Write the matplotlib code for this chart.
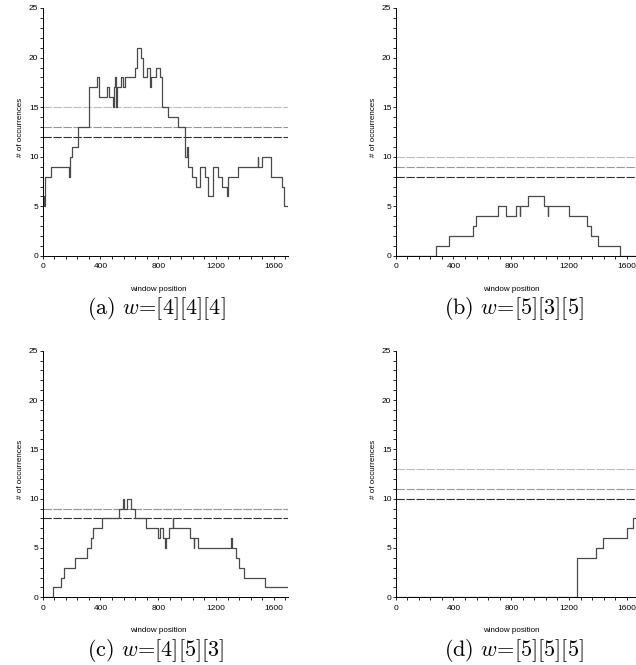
import matplotlib
matplotlib.use("Agg")
import matplotlib.pyplot as plt
from matplotlib.ticker import MultipleLocator

plt.rcParams['font.family'] = ['Liberation Sans', 'DejaVu Sans']
plt.rcParams['mathtext.fontset'] = 'cm'
plt.rcParams['lines.scale_dashes'] = False

# step data: window position where the count changes, and the new count
pos_a = [0, 9, 18, 60, 182, 189, 205, 244, 324, 374, 392, 443, 461, 489, 494, 501,
         506, 512, 545, 558, 572, 637, 655, 683, 697, 725, 743, 748, 787, 812, 826,
         865, 935, 985, 999, 1005, 1009, 1036, 1059, 1092, 1124, 1142, 1180, 1216,
         1239, 1278, 1286, 1350, 1489, 1493, 1516, 1581, 1659, 1669, 1700]
cnt_a = [6, 5, 8, 9, 8, 10, 11, 13, 17, 18, 16, 17, 16, 15, 17, 18,
         15, 17, 18, 17, 18, 19, 21, 20, 18, 19, 17, 18, 19, 18, 15,
         14, 13, 10, 11, 10, 9, 8, 7, 9, 8, 6, 9, 8,
         7, 6, 8, 9, 10, 9, 10, 8, 7, 5, 5]

pos_b = [0, 277, 369, 535, 554, 706, 766, 835, 858, 862, 914, 1029, 1052, 1057,
         1200, 1325, 1352, 1403, 1556, 1700]
cnt_b = [0, 1, 2, 3, 4, 5, 4, 5, 4, 5, 6, 5, 4, 5,
         4, 3, 2, 1, 0, 0]

pos_c = [0, 74, 124, 148, 221, 309, 337, 348, 411, 526, 554, 563, 581, 614, 641,
         715, 801, 812, 831, 849, 852, 856, 872, 900, 904, 1022, 1045, 1050, 1055,
         1078, 1304, 1313, 1336, 1359, 1392, 1539, 1700]
cnt_c = [0, 1, 2, 3, 4, 5, 6, 7, 8, 9, 10, 9, 10, 9, 8,
         7, 6, 7, 6, 5, 6, 6, 7, 8, 7, 6, 5, 6, 6,
         5, 6, 5, 4, 3, 2, 1, 1]

pos_d = [0, 1252, 1387, 1433, 1600, 1641, 1700]
cnt_d = [0, 4, 5, 6, 7, 8, 8]

# threshold lines of each panel (light, medium, dark)
thr_a = [15, 13, 12]
thr_b = [10, 9, 8]
thr_c = [9, 8.93, 8]
thr_d = [13, 11, 10]

captions = ["(a) $w$=[4][4][4]", "(b) $w$=[5][3][5]",
            "(c) $w$=[4][5][3]", "(d) $w$=[5][5][5]"]

thr_colors = ['#bdbdbd', '#979797', '#303030']

W, H = 636, 665


def draw_panel(fig, rect, pos, cnt, thr):
    ax = fig.add_axes(rect)
    for t, c in zip(thr, thr_colors):
        ax.axhline(t, color=c, lw=0.8, linestyle=(0, (6, 1.2)))
    ax.step(pos, cnt, where='post', color='#4a4a4a', lw=0.9)
    ax.set_xlim(0, 1700)
    ax.set_ylim(0, 25)
    ax.spines['top'].set_visible(False)
    ax.spines['right'].set_visible(False)
    for s in ['left', 'bottom']:
        ax.spines[s].set_linewidth(0.7)
    ax.xaxis.set_major_locator(MultipleLocator(400))
    ax.xaxis.set_minor_locator(MultipleLocator(80))
    ax.yaxis.set_major_locator(MultipleLocator(5))
    ax.yaxis.set_minor_locator(MultipleLocator(1))
    ax.tick_params(which='both', direction='out', length=2.5, width=0.6,
                   labelsize=6, color='black')
    ax.tick_params(axis='x', pad=2.8)
    ax.tick_params(axis='y', pad=0.6)
    ax.set_xlabel('window position', fontsize=5.8)
    ax.set_ylabel('# of occurrences', fontsize=5.8)
    ax.xaxis.set_label_coords(0.47, -0.12)
    ax.yaxis.set_label_coords(-0.078, 0.52)
    return ax


fig = plt.figure(figsize=(W / 100, H / 100), dpi=100)

axw = 245.5 / W
draw_panel(fig, [42.7 / W, 1 - 256 / H, axw, 248 / H], pos_a, cnt_a, thr_a)
draw_panel(fig, [395.7 / W, 1 - 256 / H, axw, 248 / H], pos_b, cnt_b, thr_b)
draw_panel(fig, [42.7 / W, 1 - 597.3 / H, axw, 246.6 / H], pos_c, cnt_c, thr_c)
draw_panel(fig, [395.7 / W, 1 - 597.3 / H, axw, 246.6 / H], pos_d, cnt_d, thr_d)

cap_xy = [(156, 308), (513.5, 308), (156, 651), (513.5, 651)]
for (cx, cy), txt in zip(cap_xy, captions):
    fig.text(cx / W, 1 - cy / H, txt, ha='center', va='center',
             fontfamily='cmr10', fontsize=16)

fig.savefig('out.png', dpi=100)
